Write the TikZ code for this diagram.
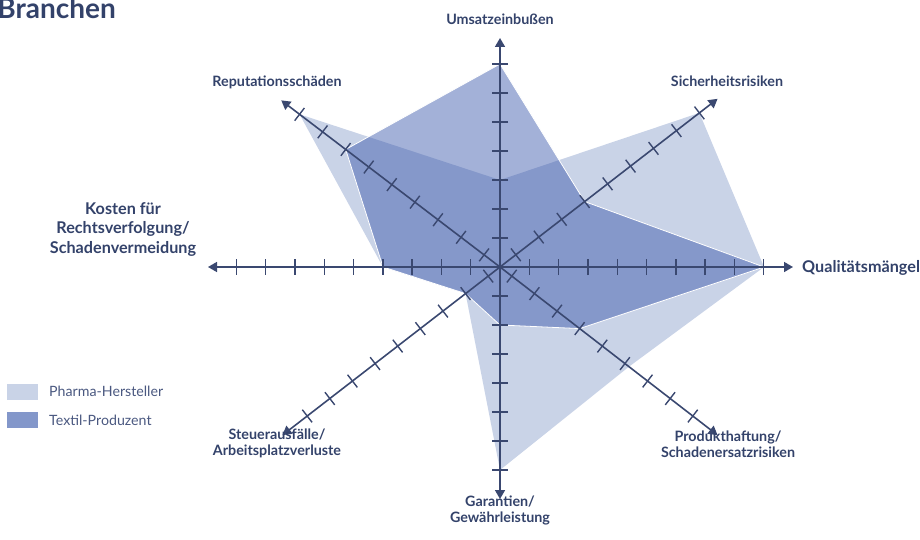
\documentclass[tikz,border=0pt]{standalone}
\usepackage{fontspec}
\setmainfont{Lato}
\usetikzlibrary{arrows.meta,calc}
\definecolor{ink}{HTML}{33426A}
\definecolor{axisc}{HTML}{3A4870}
\definecolor{pharma}{HTML}{C9D3E7}
\definecolor{textil}{RGB}{51,82,168}
\definecolor{textilkey}{HTML}{8397CA}
\definecolor{keytext}{HTML}{4A5880}
\begin{document}
\begin{tikzpicture}[x=1pt,y=-1pt,
  axisline/.style={draw=axisc,line width=1.6pt,-{Triangle[length=9pt,width=10pt]}},
  tickmark/.style={draw=axisc,line width=1.4pt},
  lbl/.style={inner sep=0pt,text=ink,align=center,font=\bfseries\fontsize{14.3}{15.5}\selectfont},
  biglbl/.style={lbl,font=\bfseries\fontsize{16.2}{19.5}\selectfont},
  keylbl/.style={inner sep=0pt,text=keytext,anchor=base west,font=\fontsize{14.2}{16}\selectfont},
  pharmaarea/.style={fill=pharma},
  textilarea/.style={fill=textil,fill opacity=0.45,draw=white,line width=0.8pt}
]
\useasboundingbox (0,0) rectangle (920,540);
\coordinate (O) at (500,267);

% data areas
\fill[pharmaarea] ($(O)+(-90:87)$) -- ($(O)+(-37.7:252)$) -- ($(O)+(0:264)$)
  -- ($(O)+(37.7:163)$) -- ($(O)+(90:203)$) -- ($(O)+(142.3:43.5)$)
  -- ($(O)+(180:117)$) -- ($(O)+(217.3:252)$) -- cycle;
\path[textilarea] ($(O)+(-90:203)$) -- ($(O)+(-37.7:107)$) -- ($(O)+(0:264)$)
  -- ($(O)+(37.7:100.7)$) -- ($(O)+(90:58)$) -- ($(O)+(142.3:43.5)$)
  -- ($(O)+(180:117)$) -- ($(O)+(217.3:194)$) -- cycle;

% axis end points
\coordinate (aN)  at ($(O)+(-90:229)$);
\coordinate (aS)  at ($(O)+(90:232)$);
\coordinate (aE)  at ($(O)+(0:293)$);
\coordinate (aW)  at ($(O)+(180:292)$);
\coordinate (aNE) at ($(O)+(-37.7:275)$);
\coordinate (aSE) at ($(O)+(37.7:275)$);
\coordinate (aSW) at ($(O)+(142.3:275)$);
\coordinate (aNW) at ($(O)+(217.3:275)$);

\foreach \e in {aN,aS,aE,aW,aNE,aSE,aSW,aNW}
  \draw[axisline] (O) -- (\e);

% tick marks: angle / offset / spacing / count
\foreach \ang/\off/\sp/\n in {-90/0/29/7, 90/0/29/7, 0/0/29.3/9, 180/0/29.3/9,
    -37.7/9/29/9, 217.3/9/29/9, 37.7/13.7/28.6/9, 142.3/13.7/28.6/9}{
  \foreach \k in {1,...,\n}{
    \pgfmathsetmacro\rr{\k*\sp-\off}
    \draw[tickmark] ($(O)+(\ang:\rr)+({\ang+90}:8)$) -- ($(O)+(\ang:\rr)+({\ang-90}:8)$);
  }
}
\fill[axisc] (O) circle (2.6);

% axis labels
\node[lbl,anchor=base] (lN) at (500,25) {Umsatzeinbußen};
\node[lbl,anchor=base] (lNE) at (727,87) {Sicherheitsrisiken};
\node[biglbl,anchor=base west] (lE) at (802,272) {Qualitätsmängel};
\node[lbl,anchor=base] (lSE) at (728,457) {Produkthaftung/\\Schadenersatzrisiken};
\node[lbl,anchor=base] (lS) at (500,522) {Garantien/\\Gewährleistung};
\node[lbl,anchor=base] (lSW) at (277,455) {Steuerausfälle/\\Arbeitsplatzverluste};
\node[biglbl,anchor=base] (lW) at (123,253) {Kosten für\\Rechtsverfolgung/\\Schadenvermeidung};
\node[lbl,anchor=base] (lNW) at (277,87) {Reputationsschäden};

% title
\node[inner sep=0pt,text=ink,anchor=base east,font=\bfseries\fontsize{28}{32}\selectfont] (title) at (116,19) {Branchen};

% key
\fill[pharma] (7,384) rectangle (38,400);
\fill[textilkey] (7,412) rectangle (38,428);
\node[keylbl] (k1) at (49,396) {Pharma-Hersteller};
\node[keylbl] (k2) at (49,425) {Textil-Produzent};
\end{tikzpicture}
\end{document}
